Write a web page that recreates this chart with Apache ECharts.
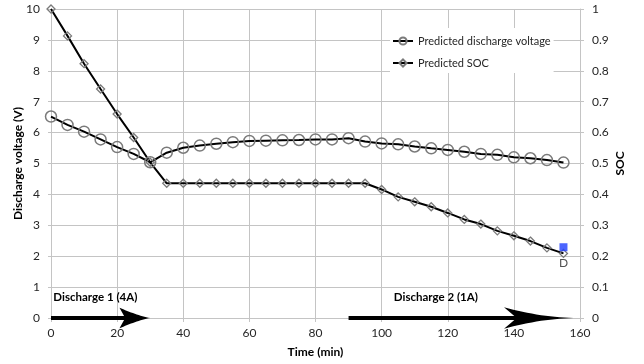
<!DOCTYPE html>
<html>
<head>
<meta charset="utf-8">
<script src="https://cdn.jsdelivr.net/npm/echarts@6/dist/echarts.min.js"></script>
<style>
html,body{margin:0;padding:0;background:#fff;}
#chart{width:644px;height:364px;}
</style>
</head>
<body>
<div id="chart"></div>
<script>
// ---- data ----
const time = [0,5,10,15,20,25,30,35,40,45,50,55,60,65,70,75,80,85,90,95,100,105,110,115,120,125,130,135,140,145,150,155];
const voltage = [6.52,6.25,6.03,5.78,5.53,5.31,5.04,5.35,5.51,5.58,5.64,5.69,5.73,5.74,5.75,5.76,5.78,5.78,5.82,5.71,5.65,5.62,5.55,5.49,5.44,5.38,5.31,5.28,5.2,5.17,5.11,5.03];
const soc = [1.0,0.913,0.823,0.741,0.66,0.584,0.504,0.436,0.436,0.436,0.436,0.436,0.436,0.436,0.436,0.436,0.436,0.436,0.436,0.436,0.416,0.392,0.376,0.36,0.34,0.319,0.304,0.282,0.266,0.249,0.227,0.209];
const pointD = [155, 0.229];
const pointDLabel = 'D';
const arrowStart = [0, 90];
const arrowEnd = [30, 159.4];
const noteText = ['Discharge 1 (4A)', 'Discharge 2 (1A)'];
const noteTime = [0.7, 103.7];
const noteValue = [0.68, 0.68];
const seriesNames = ['Predicted discharge voltage', 'Predicted SOC'];

// ---- styles ----
const FONT = 'Lato';
const GRID = '#c4c4c4';
const TXT = '#262626';
const headLen = [30.7, 74];
const headHalf = [10.3, 10.7];
const headNotch = [5.7, 12.7];
const headCurve = [1.3, 1.9];

function renderArrow(params, api) {
  const i = params.dataIndex;
  const p0 = api.coord([api.value(0), 0]);
  const p1 = api.coord([api.value(1), 0]);
  const y = p0[1];
  const L = headLen[i], H = headHalf[i], N = headNotch[i], k = headCurve[i];
  const tipX = p1[0], backX = tipX - L;
  const pts = [];
  const n = 16;
  for (let s = 0; s <= n; s++) { const u = s / n; pts.push([backX + u * L, y - H * Math.pow(1 - u, k)]); }
  for (let s = n - 1; s >= 0; s--) { const u = s / n; pts.push([backX + u * L, y + H * Math.pow(1 - u, k)]); }
  pts.push([backX + N, y]);
  return {
    type: 'group',
    children: [
      { type: 'rect', shape: { x: p0[0], y: y - 2, width: backX + N + 1 - p0[0], height: 4 }, style: { fill: '#000' } },
      { type: 'polygon', shape: { points: pts }, style: { fill: '#000' } }
    ]
  };
}

function renderNote(params, api) {
  const i = params.dataIndex;
  const p = api.coord([api.value(0), api.value(1)]);
  return {
    type: 'text',
    x: p[0], y: p[1],
    style: { text: noteText[i], fill: '#000', font: 'bold 11.5px ' + FONT, align: 'left', verticalAlign: 'middle' }
  };
}

const chart = echarts.init(document.getElementById('chart'), null, { renderer: 'canvas' });
const option = {
  animation: false,
  textStyle: { fontFamily: FONT },
  grid: { left: 51, right: 64, top: 9, bottom: 46, containLabel: false, outerBoundsMode: 'none' },
  legend: {
    left: 390, top: 28,
    orient: 'vertical',
    backgroundColor: '#fff',
    padding: [6, 3, 3, 2],
    itemWidth: 20, itemHeight: 9, itemGap: 8,
    data: seriesNames,
    textStyle: { fontFamily: FONT, fontSize: 11, color: TXT, lineHeight: 14 }
  },
  xAxis: {
    type: 'value', min: 0, max: 160, interval: 20,
    name: 'Time (min)', nameLocation: 'middle', nameGap: 28, nameMoveOverlap: false,
    nameTextStyle: { fontFamily: FONT, fontWeight: 'bold', fontSize: 12, color: '#000' },
    axisLine: { show: true, lineStyle: { color: GRID } },
    axisTick: { show: true, length: 4, lineStyle: { color: GRID } },
    axisLabel: { fontFamily: FONT, fontSize: 12, color: TXT, margin: 9 },
    splitLine: { show: true, lineStyle: { color: GRID, width: 1 } }
  },
  yAxis: [
    {
      type: 'value', min: 0, max: 10, interval: 1, position: 'left',
      name: 'Discharge voltage (V)', nameLocation: 'middle', nameGap: 27, nameRotate: 90, nameMoveOverlap: false,
      nameTextStyle: { fontFamily: FONT, fontWeight: 'bold', fontSize: 12, color: '#000' },
      axisLine: { show: true, lineStyle: { color: GRID } },
      axisTick: { show: true, length: 3, lineStyle: { color: GRID } },
      axisLabel: { fontFamily: FONT, fontSize: 12, color: TXT, margin: 11 },
      splitLine: { show: true, lineStyle: { color: GRID, width: 1 } }
    },
    {
      type: 'value', min: 0, max: 1, interval: 0.1, position: 'right',
      name: 'SOC', nameLocation: 'middle', nameGap: 34, nameRotate: 90, nameMoveOverlap: false,
      nameTextStyle: { fontFamily: FONT, fontWeight: 'bold', fontSize: 12, color: '#000' },
      axisLine: { show: true, lineStyle: { color: GRID } },
      axisTick: { show: true, length: 4, lineStyle: { color: GRID } },
      axisLabel: { fontFamily: FONT, fontSize: 12, color: TXT, margin: 12 },
      splitLine: { show: false }
    }
  ],
  series: [
    {
      name: seriesNames[0], type: 'line', yAxisIndex: 0,
      data: time.map((t, i) => [t, voltage[i]]),
      symbol: 'circle', symbolSize: 11, showAllSymbol: true,
      lineStyle: { color: '#000', width: 2 },
      itemStyle: { color: 'rgba(255,255,255,0)', borderColor: '#7a7a7a', borderWidth: 1.5 },
      z: 3
    },
    {
      name: seriesNames[1], type: 'line', yAxisIndex: 1,
      data: time.map((t, i) => [t, soc[i]]),
      symbol: 'diamond', symbolSize: 8, showAllSymbol: true,
      lineStyle: { color: '#000', width: 2 },
      itemStyle: { color: 'rgba(255,255,255,0)', borderColor: '#7a7a7a', borderWidth: 1.3 },
      z: 3
    },
    {
      type: 'custom', yAxisIndex: 0, clip: false, z: 5,
      data: arrowStart.map((s, i) => [s, arrowEnd[i]]),
      renderItem: renderArrow, silent: true
    },
    {
      type: 'custom', yAxisIndex: 0, clip: false, z: 5,
      data: noteTime.map((t, i) => [t, noteValue[i]]),
      renderItem: renderNote, silent: true
    },
    {
      type: 'scatter', yAxisIndex: 1, z: 6,
      data: [pointD],
      symbol: 'rect', symbolSize: 8,
      itemStyle: { color: '#1f3fff' },
      label: { show: true, formatter: pointDLabel, position: 'bottom', distance: 6, fontFamily: FONT, fontSize: 12, color: TXT }
    }
  ]
};
chart.setOption(option);
</script>
</body>
</html>
